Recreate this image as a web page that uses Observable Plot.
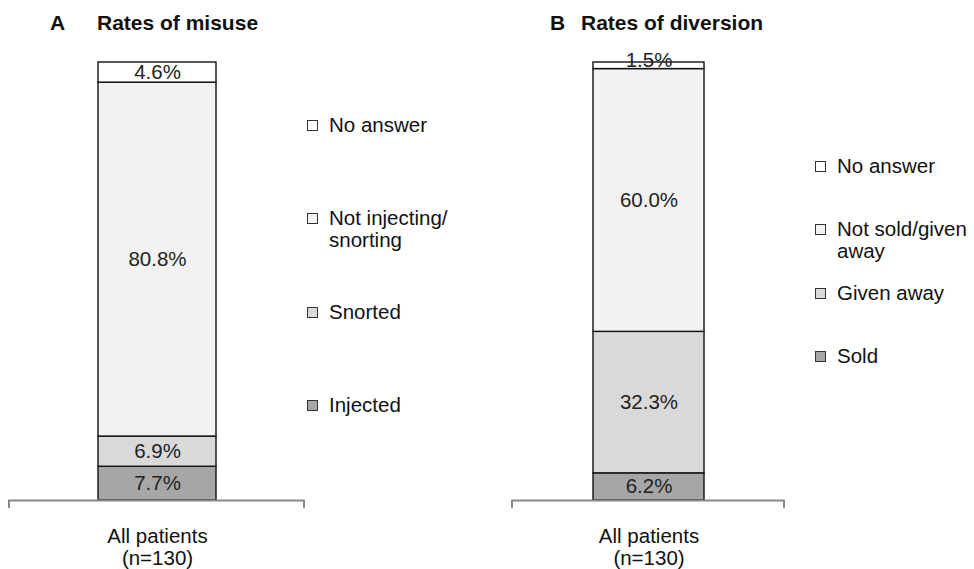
<!DOCTYPE html>
<html>
<head>
<meta charset="utf-8">
<script src="https://cdn.jsdelivr.net/npm/d3@7"></script>
<script src="https://cdn.jsdelivr.net/npm/@observablehq/plot@0.6"></script>
<style>
  html, body { margin: 0; padding: 0; background: #fff; }
  #wrap { position: relative; width: 974px; height: 569px; overflow: hidden;
          font-family: "Liberation Sans", Arial, sans-serif; color: #111; }
  .abs { position: absolute; white-space: nowrap; }
  .title { font-weight: bold; font-size: 21px; line-height: 22px; }
  .leg { position: absolute; font-size: 20.5px; line-height: 22px; white-space: pre-line; color: #111; }
  .leg .sw { position: absolute; left: 0; top: 6px; width: 9px; height: 9px; border: 1px solid #333; }
  .leg .lab { margin-left: 22px; display: block; }
  svg { position: absolute; top: 0; overflow: visible; }
</style>
</head>
<body>
<div id="wrap"></div>
<script>
// ---- data ----
const groupLabel = "All patients\n(n=130)";
const misuseCategories = ["Injected", "Snorted", "Not injecting/\nsnorting", "No answer"];
const misuseValues = [7.7, 6.9, 80.8, 4.6];
const diversionCategories = ["Sold", "Given away", "Not sold/given\naway", "No answer"];
const diversionValues = [6.2, 32.3, 60.0, 1.5];
const segmentColors = ["#a6a6a6", "#d9d9d9", "#f2f2f2", "#ffffff"];
const panelTitles = [["A", "Rates of misuse"], ["B", "Rates of diversion"]];

const wrap = document.getElementById("wrap");
const FONT = "Liberation Sans, Arial, sans-serif";

function panel({categories, values, left, width, padding, legendLeft, legendRows, letterLeft, titleLeft, title}) {
  const data = categories.map((c, i) => ({group: groupLabel, category: c, value: values[i]}));
  const fmt = d => d.value.toFixed(1) + "%";
  const chart = Plot.plot({
    width, height: 569,
    marginLeft: 0, marginRight: 0, marginTop: 62, marginBottom: 69,
    style: {fontFamily: FONT, fontSize: "20px", background: "transparent", overflow: "visible"},
    x: {domain: [groupLabel], padding, axis: null},
    y: {domain: [0, 100], axis: null},
    color: {domain: categories, range: segmentColors},
    marks: [
      Plot.barY(data, Plot.stackY({x: "group", y: "value", fill: "category", stroke: "#111", strokeWidth: 1.4})),
      Plot.text(data, Plot.stackY({x: "group", y: "value", text: d => d.value >= 3 ? fmt(d) : "",
        fontSize: 20.5, fill: "#222", fontFamily: FONT})),
      Plot.text(data, Plot.stackY({x: "group", y: "value", text: d => d.value < 3 ? fmt(d) : "",
        dy: -5, fontSize: 20.5, fill: "#222", fontFamily: FONT})),
      Plot.ruleY([0], {stroke: "#888", strokeWidth: 2}),
      Plot.text([groupLabel], {x: d => d, text: d => d, frameAnchor: "bottom", lineAnchor: "top",
        dy: 27, lineHeight: 1.08, fontSize: 20.5, fill: "#111", fontFamily: FONT})
    ]
  });
  chart.style.left = left + "px";
  // end ticks of the category axis, from the plot's own scales
  const xr = chart.scale("x").range;
  const y0 = chart.scale("y").apply(0);
  const svg = d3.select(chart);
  for (const xv of [xr[0] + 1, xr[1] - 1]) {
    svg.append("line").attr("x1", xv).attr("x2", xv).attr("y1", y0).attr("y2", y0 + 8)
      .attr("stroke", "#888").attr("stroke-width", 2);
  }
  wrap.appendChild(chart);

  // titles
  const t1 = document.createElement("div");
  t1.className = "abs title"; t1.style.left = letterLeft + "px"; t1.style.top = "12px"; t1.textContent = title[0];
  const t2 = document.createElement("div");
  t2.className = "abs title"; t2.style.left = titleLeft + "px"; t2.style.top = "12px"; t2.textContent = title[1];
  wrap.appendChild(t1); wrap.appendChild(t2);

  // legend (top to bottom = reverse stacking order)
  const order = categories.map((c, i) => i).reverse();
  order.forEach((i, k) => {
    const item = document.createElement("div");
    item.className = "leg";
    item.style.left = legendLeft + "px";
    item.style.top = (legendRows[k] - 11) + "px";
    const sw = document.createElement("span");
    sw.className = "sw"; sw.style.background = segmentColors[i];
    const lab = document.createElement("span");
    lab.className = "lab"; lab.textContent = categories[i];
    item.appendChild(sw); item.appendChild(lab);
    wrap.appendChild(item);
  });
}

panel({categories: misuseCategories, values: misuseValues, left: 8, width: 297, padding: 0.4314,
  legendLeft: 307, legendRows: [125, 218, 312, 405], letterLeft: 50, titleLeft: 97, title: panelTitles[0]});
panel({categories: diversionCategories, values: diversionValues, left: 511, width: 274, padding: 0.4235,
  legendLeft: 815, legendRows: [166, 229, 293, 356], letterLeft: 550, titleLeft: 581, title: panelTitles[1]});
</script>
</body>
</html>
